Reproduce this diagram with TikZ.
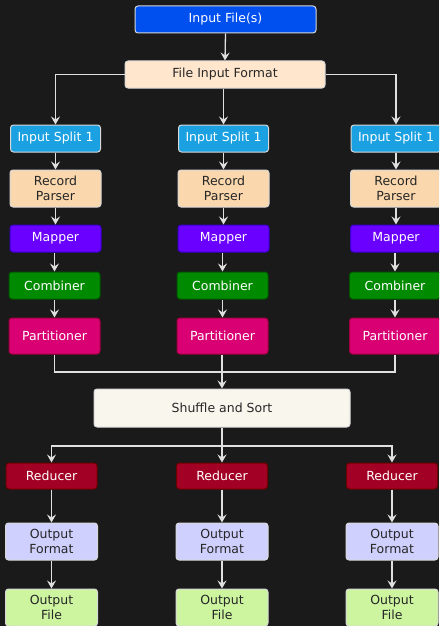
\documentclass[tikz,border=0pt]{standalone}
\usepackage{fontspec}
\setmainfont{DejaVu Sans}
\usetikzlibrary{arrows.meta}
\definecolor{bg}{HTML}{1A1A1A}
\definecolor{wire}{HTML}{E0E0E0}
\definecolor{lightedge}{HTML}{D8D8D8}
\tikzset{
  box/.style={rectangle, rounded corners=3pt, line width=1pt, align=center,
    font=\fontsize{12.5}{15.3}\selectfont, inner sep=0pt},
  lightbox/.style={box, draw=lightedge, text=black!85},
  darkbox/.style={box, text=white},
  flow/.style={draw=wire, line width=1.3pt, -{Stealth[length=8pt,width=9pt,inset=3pt]}},
  link/.style={draw=wire, line width=1.3pt},
}
\begin{document}
\begin{tikzpicture}[x=1pt, y=-1pt]
\fill[bg] (0,0) rectangle (439,626);
\useasboundingbox (0,0) rectangle (439,626);
\begin{scope}
\clip (0,0) rectangle (439,626);

% source and input format
\node[darkbox, draw=lightedge, fill={rgb,255:red,0;green,80;blue,239},
  minimum width=181pt, minimum height=27pt] (in) at (225.5,19.5) {Input File(s)};
\node[lightbox, fill={rgb,255:red,255;green,230;blue,204},
  minimum width=200pt, minimum height=27pt] (fif) at (225,74.5) {File Input Format};

% map-side columns
\foreach \c/\x in {1/55.5, 2/223.5, 3/396}{
  \node[darkbox, draw=lightedge, fill={rgb,255:red,27;green,161;blue,226},
    minimum width=90pt, minimum height=27pt] (split\c) at (\x,138.5) {Input Split 1};
  \node[lightbox, fill={rgb,255:red,250;green,215;blue,172},
    minimum width=91pt, minimum height=37pt] (rec\c) at (\x,188.5) {Record\\Parser};
  \node[darkbox, draw={rgb,255:red,55;green,0;blue,204}, fill={rgb,255:red,106;green,0;blue,255},
    minimum width=91pt, minimum height=27pt] (map\c) at (\x,238.5) {Mapper};
  \node[darkbox, draw={rgb,255:red,0;green,87;blue,0}, fill={rgb,255:red,0;green,138;blue,0},
    minimum width=91pt, minimum height=27pt] (comb\c) at (\x-1,285.5) {Combiner};
  \node[darkbox, draw={rgb,255:red,165;green,0;blue,64}, fill={rgb,255:red,216;green,0;blue,115},
    minimum width=91pt, minimum height=36pt] (part\c) at (\x-1,336) {Partitioner};
}

% shuffle stage
\node[lightbox, fill={rgb,255:red,249;green,247;blue,237},
  minimum width=256pt, minimum height=38pt] (shuf) at (222,408) {Shuffle and Sort};

% reduce-side columns
\foreach \c/\x in {1/51.5, 2/222, 3/392}{
  \node[darkbox, draw={rgb,255:red,111;green,0;blue,0}, fill={rgb,255:red,162;green,0;blue,37},
    minimum width=91pt, minimum height=26pt] (red\c) at (\x,476) {Reducer};
  \node[lightbox, fill={rgb,255:red,208;green,208;blue,255},
    minimum width=92pt, minimum height=37pt] (ofmt\c) at (\x,541.5) {Output\\Format};
  \node[lightbox, fill={rgb,255:red,205;green,245;blue,160},
    minimum width=92pt, minimum height=37pt] (ofile\c) at (\x,607.5) {Output\\File};
}

% connectors: input to splits
\draw[flow] (in.south) -- (fif.north);
\draw[flow] (fif.west) -| (split1.north);
\draw[flow] (fif.south -| split2.north) -- (split2.north);
\draw[flow] (fif.east) -| (split3.north);

% connectors: map pipeline
\foreach \c in {1,2,3}{
  \draw[flow] (split\c.south) -- (rec\c.north);
  \draw[flow] (rec\c.south) -- (map\c.north);
  \draw[flow] (map\c.south -| comb\c.north) -- (comb\c.north);
  \draw[flow] (comb\c.south) -- (part\c.north);
}

% partitions merge into shuffle
\coordinate (join) at (222,372);
\draw[link] (part1.south) |- (join);
\draw[link] (part3.south) |- (join);
\draw[flow] (part2.south -| shuf.north) -- (shuf.north);

% shuffle fans out to reducers
\coordinate (fan) at (222,446);
\draw[link] (shuf.south) -- (fan);
\foreach \c in {1,2,3}{
  \draw[flow] (fan) -| (red\c.north);
  \draw[flow] (red\c.south) -- (ofmt\c.north);
  \draw[flow] (ofmt\c.south) -- (ofile\c.north);
}
\end{scope}
\end{tikzpicture}
\end{document}
